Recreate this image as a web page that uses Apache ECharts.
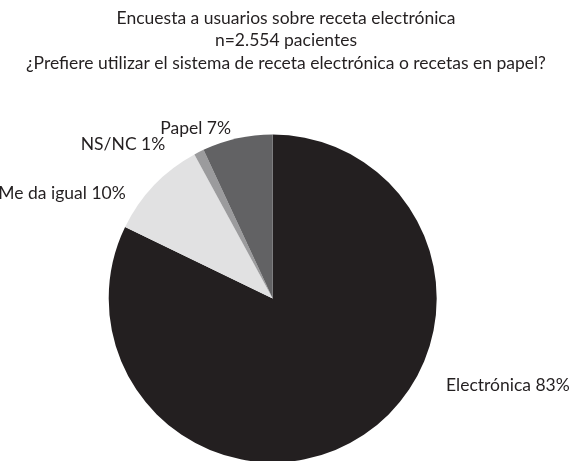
<!DOCTYPE html>
<html>
<head>
<meta charset="utf-8">
<script src="https://cdn.jsdelivr.net/npm/echarts@6/dist/echarts.min.js"></script>
<style>
  html, body { margin: 0; padding: 0; background: #ffffff; }
  #chart { width: 572px; height: 461px; }
</style>
</head>
<body>
<div id="chart"></div>
<script>
// Survey answers (percent of respondents)
const categories = ['Electrónica', 'Me da igual', 'NS/NC', 'Papel'];
const values = [83, 10, 1, 7];
const sliceColors = ['#231f20', '#e1e1e2', '#9b9b9d', '#626264'];

const titleLines = [
  'Encuesta a usuarios sobre receta electrónica',
  'n=2.554 pacientes',
  '¿Prefiere utilizar el sistema de receta electrónica o recetas en papel?'
];

// Small nudges so each label sits beside its slice
const labelNudge = [[74, -57], [-15, 12], [-22, -2], [4, -4]];

const chart = echarts.init(document.getElementById('chart'), null, { renderer: 'canvas' });

chart.setOption({
  backgroundColor: '#ffffff',
  animation: false,
  title: {
    text: titleLines.join('\n'),
    left: 'center',
    top: 2,
    textStyle: {
      fontFamily: 'Lato',
      fontSize: 17.5,
      fontWeight: 'normal',
      color: '#231f20',
      lineHeight: 22.5
    }
  },
  series: [{
    type: 'pie',
    center: [272.7, 298.5],
    radius: 164,
    startAngle: 90,
    clockwise: true,
    avoidLabelOverlap: false,
    label: {
      show: true,
      position: 'outside',
      formatter: p => p.name + ' ' + p.value + '%',
      fontFamily: 'Lato',
      fontSize: 17.5,
      color: '#231f20'
    },
    labelLine: { show: false, length: 6, length2: 4 },
    labelLayout: params => {
      const n = labelNudge[params.dataIndex];
      return { dx: n[0], dy: n[1] };
    },
    itemStyle: { borderWidth: 0 },
    emphasis: { disabled: true },
    data: categories.map((c, i) => ({
      name: c,
      value: values[i],
      itemStyle: { color: sliceColors[i] }
    }))
  }]
});
</script>
</body>
</html>
